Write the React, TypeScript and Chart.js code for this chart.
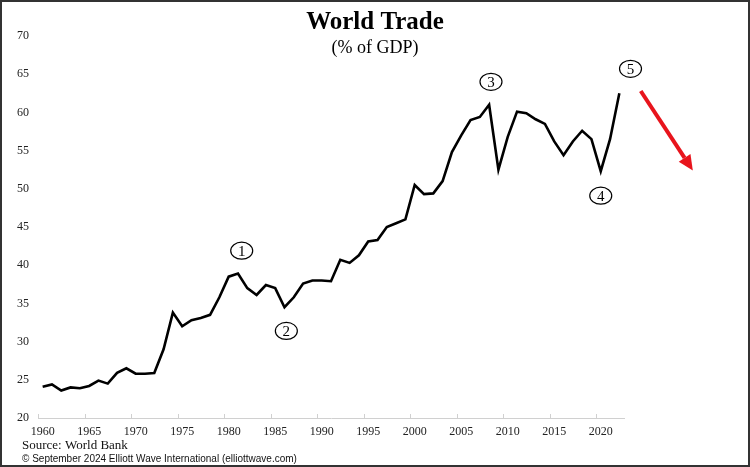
import React, { useEffect, useRef } from "react";
import { Chart, registerables } from "chart.js";

Chart.register(...registerables);

const years: number[] = [
  1960, 1961, 1962, 1963, 1964, 1965, 1966, 1967, 1968, 1969,
  1970, 1971, 1972, 1973, 1974, 1975, 1976, 1977, 1978, 1979,
  1980, 1981, 1982, 1983, 1984, 1985, 1986, 1987, 1988, 1989,
  1990, 1991, 1992, 1993, 1994, 1995, 1996, 1997, 1998, 1999,
  2000, 2001, 2002, 2003, 2004, 2005, 2006, 2007, 2008, 2009,
  2010, 2011, 2012, 2013, 2014, 2015, 2016, 2017, 2018, 2019,
  2020, 2021, 2022,
];

const tradePctGdp: number[] = [
  24.1, 24.4, 23.6, 24.0, 23.9, 24.2, 24.9, 24.5, 25.9, 26.5,
  25.8, 25.8, 25.9, 29.0, 33.8, 32.0, 32.8, 33.1, 33.5, 35.8,
  38.5, 38.9, 37.0, 36.1, 37.4, 37.0, 34.5, 35.8, 37.6, 38.0,
  38.0, 37.9, 40.7, 40.3, 41.3, 43.1, 43.3, 45.0, 45.5, 46.0,
  50.5, 49.3, 49.4, 51.0, 54.8, 57.0, 59.0, 59.4, 61.0, 52.5,
  56.8, 60.1, 59.9, 59.1, 58.5, 56.2, 54.4, 56.2, 57.6, 56.5,
  52.3, 56.5, 62.5,
];

const titleText = "World Trade";
const subtitleText = "(% of GDP)";
const sourceText = "Source: World Bank";
const copyrightText = "\u00A9 September 2024 Elliott Wave International (elliottwave.com)";

// Elliott wave labels (year, value) in data space
const waveLabels: string[] = ["1", "2", "3", "4", "5"];
const waveYears: number[] = [1981.4, 1986.2, 2008.2, 2020.0, 2023.2];
const waveValues: number[] = [41.9, 31.4, 64.0, 49.1, 65.7];

// Red arrow (year, value) start and tip
const arrowStart: number[] = [2024.3, 62.8];
const arrowEnd: number[] = [2029.9, 52.4];

const Y_MIN = 20;
const Y_MAX = 70;
const Y_STEP = 5;
const X_TICK_EVERY = 5;

const overlayPlugin = {
  id: "overlay",
  afterDraw(chart: any) {
    const ctx = chart.ctx;
    const xs = chart.scales.x;
    const ys = chart.scales.y;
    const area = chart.chartArea;
    const W = chart.width;
    const H = chart.height;
    const x0 = years[0];
    const px = (yr: number) => xs.getPixelForValue(yr - x0);
    const py = (v: number) => ys.getPixelForValue(v);

    ctx.save();
    // inward tick marks on the x axis at category boundaries
    ctx.strokeStyle = "#d0d0d0";
    ctx.lineWidth = 1;
    for (let i = 0; i <= years.length; i += X_TICK_EVERY) {
      const x = Math.round(xs.getPixelForValue(i - 0.5)) + 0.5;
      ctx.beginPath();
      ctx.moveTo(x, area.bottom);
      ctx.lineTo(x, area.bottom - 4);
      ctx.stroke();
    }

    // titles
    ctx.fillStyle = "#000";
    ctx.textAlign = "center";
    ctx.textBaseline = "middle";
    ctx.font = 'bold 25px "Liberation Serif"';
    ctx.fillText(titleText, W / 2, 23);
    ctx.font = '18px "Liberation Serif"';
    ctx.fillText(subtitleText, W / 2, 48);

    // wave labels in ellipses
    for (let i = 0; i < waveLabels.length; i++) {
      const cx = px(waveYears[i]);
      const cy = py(waveValues[i]);
      ctx.beginPath();
      ctx.ellipse(cx, cy, 11, 8.5, 0, 0, Math.PI * 2);
      ctx.fillStyle = "#fff";
      ctx.fill();
      ctx.strokeStyle = "#000";
      ctx.lineWidth = 1.2;
      ctx.stroke();
      ctx.fillStyle = "#000";
      ctx.font = '15px "Liberation Serif"';
      ctx.textAlign = "center";
      ctx.textBaseline = "middle";
      ctx.fillText(waveLabels[i], cx, cy + 1);
    }

    // red arrow
    const ax0 = px(arrowStart[0]);
    const ay0 = py(arrowStart[1]);
    const ax1 = px(arrowEnd[0]);
    const ay1 = py(arrowEnd[1]);
    const ang = Math.atan2(ay1 - ay0, ax1 - ax0);
    const headLen = 15;
    const headW = 7;
    const bx = ax1 - headLen * Math.cos(ang);
    const by = ay1 - headLen * Math.sin(ang);
    ctx.strokeStyle = "#e8141c";
    ctx.fillStyle = "#e8141c";
    ctx.lineWidth = 4;
    ctx.lineCap = "butt";
    ctx.beginPath();
    ctx.moveTo(ax0, ay0);
    ctx.lineTo(bx, by);
    ctx.stroke();
    ctx.beginPath();
    ctx.moveTo(ax1, ay1);
    ctx.lineTo(bx + headW * Math.sin(ang), by - headW * Math.cos(ang));
    ctx.lineTo(bx - headW * Math.sin(ang), by + headW * Math.cos(ang));
    ctx.closePath();
    ctx.fill();

    // source & copyright
    ctx.fillStyle = "#111";
    ctx.textAlign = "left";
    ctx.textBaseline = "middle";
    ctx.font = '13px "Liberation Serif"';
    ctx.fillText(sourceText, 22, 446);
    ctx.font = '10px "Liberation Sans"';
    ctx.fillText(copyrightText, 22, 459);

    // frame
    ctx.strokeStyle = "#333";
    ctx.lineWidth = 2;
    ctx.strokeRect(1, 1, W - 2, H - 2);
    ctx.restore();
  },
};

export default function App() {
  const canvasRef = useRef<HTMLCanvasElement | null>(null);

  useEffect(() => {
    const canvas = canvasRef.current;
    if (!canvas) return;
    const chart = new Chart(canvas, {
      type: "line",
      data: {
        labels: years.map(String),
        datasets: [
          {
            data: tradePctGdp,
            borderColor: "#000",
            borderWidth: 2.6,
            pointRadius: 0,
            tension: 0,
            fill: false,
            borderJoinStyle: "miter",
          },
        ],
      },
      options: {
        responsive: false,
        animation: false,
        devicePixelRatio: 1,
        layout: { padding: { left: 0, top: 36, right: 126, bottom: 0 } },
        plugins: {
          legend: { display: false },
          title: { display: false },
          tooltip: { enabled: false },
        },
        scales: {
          x: {
            type: "category",
            offset: true,
            grid: { display: false, drawTicks: false },
            border: { display: true, color: "#d0d0d0", width: 1 },
            ticks: {
              autoSkip: false,
              maxRotation: 0,
              minRotation: 0,
              padding: 7,
              color: "#222",
              font: { family: "Liberation Serif", size: 12 },
              callback: (_v: any, i: number) =>
                years[i] % X_TICK_EVERY === 0 ? String(years[i]) : null,
            },
            afterFit: (s: any) => {
              s.height = 49;
            },
          },
          y: {
            min: Y_MIN,
            max: Y_MAX,
            grid: { display: false, drawTicks: false },
            border: { display: false },
            ticks: {
              stepSize: Y_STEP,
              padding: 9,
              color: "#222",
              font: { family: "Liberation Serif", size: 12 },
            },
            afterFit: (s: any) => {
              s.width = 38;
            },
          },
        },
      },
      plugins: [overlayPlugin],
    });
    return () => chart.destroy();
  }, []);

  return (
    <div style={{ position: "absolute", left: 0, top: 0, width: 750, height: 467, background: "#fff" }}>
      <canvas ref={canvasRef} width={750} height={467} style={{ display: "block" }} />
    </div>
  );
}
